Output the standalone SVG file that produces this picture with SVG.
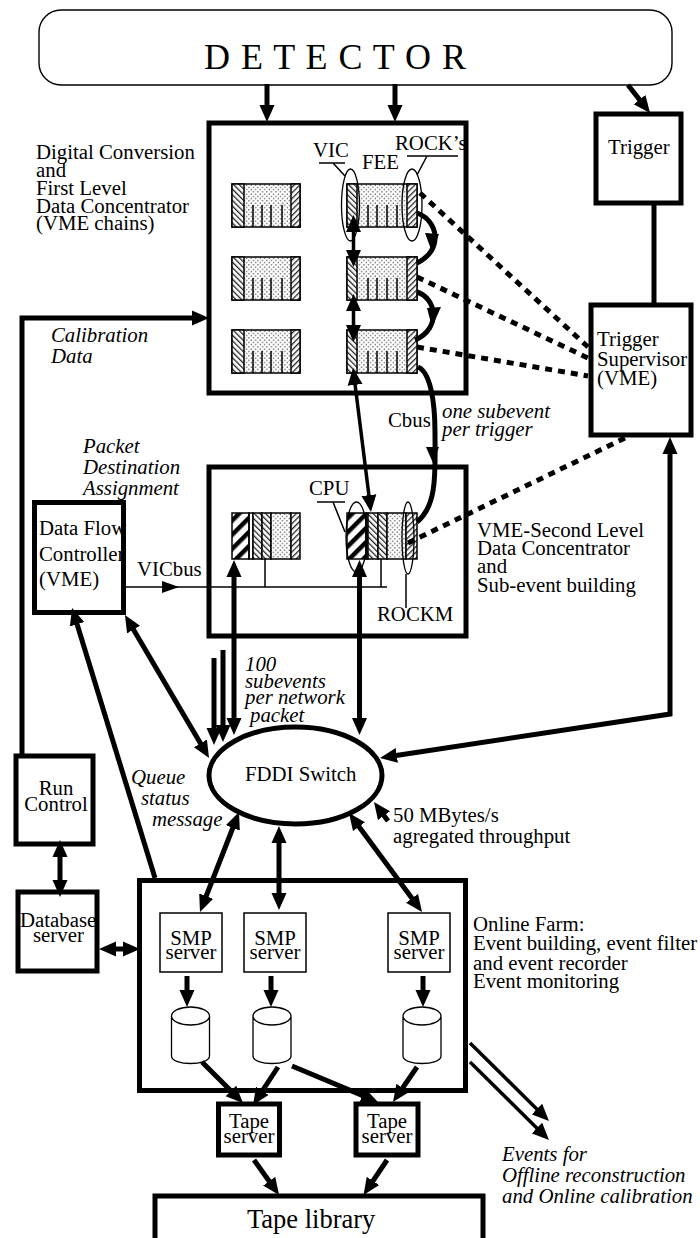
<svg xmlns="http://www.w3.org/2000/svg" width="700" height="1238" viewBox="0 0 700 1238">
<style>
text{font-family:"Liberation Serif","Times New Roman",serif;font-size:20.8px;fill:#000}
.i{font-style:italic}
.m{text-anchor:middle}
.box{fill:#fff;stroke:#000;stroke-width:5}
.open{fill:none;stroke:#000;stroke-width:5}
.thin{fill:#fff;stroke:#000;stroke-width:1.5}
.th{fill:none;stroke:#000;stroke-width:1.5}
.a3{fill:none;stroke:#000;stroke-width:3.5;marker-end:url(#h)}
.a4{fill:none;stroke:#000;stroke-width:5;marker-end:url(#h)}
.d3{fill:none;stroke:#000;stroke-width:3.5;marker-start:url(#h);marker-end:url(#h)}
.d4{fill:none;stroke:#000;stroke-width:5;marker-start:url(#h);marker-end:url(#h)}
.cv{fill:none;stroke:#000;stroke-width:5}
.ds{fill:none;stroke:#000;stroke-width:5;stroke-dasharray:7 6}
.c{fill:#fff;stroke:#000;stroke-width:1.3}
.pd{fill:url(#dots);stroke:#000;stroke-width:1.5}
.pb{fill:url(#back);stroke:#000;stroke-width:1.5}
.pf{fill:url(#fwd);stroke:#000;stroke-width:1.5}
.pt{fill:url(#thick);stroke:#000;stroke-width:1.5}
</style>
<defs>
<marker id="h" markerUnits="userSpaceOnUse" markerWidth="18" markerHeight="16" viewBox="0 0 18 16" refX="9" refY="8" orient="auto-start-reverse"><path d="M0,0.5 L17,8 L0,15.5 Z" fill="#000"/></marker>
<pattern id="dots" width="4.5" height="4.5" patternUnits="userSpaceOnUse"><rect width="4.5" height="4.5" fill="#fff"/><circle cx="1.2" cy="1.2" r=".65" fill="#222"/><circle cx="3.45" cy="3.45" r=".65" fill="#222"/></pattern>
<pattern id="back" width="4" height="4" patternUnits="userSpaceOnUse" patternTransform="rotate(-45)"><rect width="4" height="4" fill="#fff"/><rect width="1.3" height="4" fill="#222"/></pattern>
<pattern id="fwd" width="4" height="4" patternUnits="userSpaceOnUse" patternTransform="rotate(45)"><rect width="4" height="4" fill="#fff"/><rect width="1.3" height="4" fill="#222"/></pattern>
<pattern id="thick" width="10" height="10" patternUnits="userSpaceOnUse" patternTransform="rotate(45)"><rect width="10" height="10" fill="#fff"/><rect width="4.5" height="10" fill="#000"/></pattern>
<g id="crL"><rect class="pd" x="0" y="0" width="68" height="43"/><rect class="pb" x="0" y="0" width="12" height="43"/><rect class="pf" x="59" y="0" width="9" height="43"/><path class="th" d="M21,21V43M30,21V43M39,21V43M50,21V43"/></g>
<g id="crR"><rect class="pd" x="0" y="0" width="70" height="43"/><rect class="pb" x="0" y="0" width="10" height="43"/><rect class="pf" x="60" y="0" width="10" height="43"/><path class="th" d="M21,21V43M30,21V43M40,21V43M50,21V43"/></g>
<path id="cyl" class="c" d="M-19,9 V49 C-19,59 19,59 19,49 V9 M-19,9 A19,9 0 1 1 19,9 A19,9 0 1 1 -19,9 Z"/>
</defs>
<rect width="700" height="1238" fill="#fff"/>

<g id="detector"><rect x="39" y="10" width="633" height="75" rx="22" ry="22" fill="#fff" stroke="#000" stroke-width="1.4"/><text x="204" y="69" style="font-size:36px" textLength="262">D E T E C T O R</text></g>

<g id="trigger"><rect class="box" x="596" y="114" width="85" height="89"/><text x="608" y="154">Trigger</text></g>

<g id="first-level">
<rect x="209" y="123" width="257" height="270" fill="#fff"/>
<use href="#crL" x="232" y="184"/><use href="#crL" x="232" y="257"/><use href="#crL" x="232" y="330"/>
<use href="#crR" x="347" y="184"/><use href="#crR" x="347" y="257"/><use href="#crR" x="347" y="330"/>
<ellipse cx="350.5" cy="205" rx="9" ry="36" fill="none" stroke="#000" stroke-width="1.3"/>
<ellipse cx="412" cy="205" rx="10" ry="36" fill="none" stroke="#000" stroke-width="1.3"/>
<text x="313" y="157">VIC</text><path class="th" d="M319,163H345M333,163L345,176"/>
<text x="362" y="169">FEE</text>
<text x="395" y="150">ROCK’s</text><path class="th" d="M407,156H458M427,156L417,175"/>
<rect class="open" x="209" y="123" width="257" height="270"/>
</g>
<g id="first-level-label"><text x="36" y="159">Digital Conversion</text><text x="36" y="177">and</text><text x="36" y="195">First Level</text><text x="36" y="213">Data Concentrator</text><text x="36" y="230">(VME chains)</text></g>

<g id="second-level">
<rect class="box" x="209" y="467" width="257" height="169"/>
<rect class="pt" x="232" y="513" width="17" height="46"/><rect class="th" x="249" y="513" width="4" height="46"/><rect class="pb" x="253" y="513" width="9" height="46"/><rect class="pb" x="262" y="513" width="9" height="46"/><rect class="pd" x="271" y="513" width="20" height="46"/><rect class="pf" x="291" y="513" width="9" height="46"/>
<rect class="pt" x="347" y="513" width="19" height="46"/><rect class="th" x="366" y="513" width="2" height="46"/><rect class="pb" x="368" y="513" width="10" height="46"/><rect class="pb" x="378" y="513" width="9" height="46"/><rect class="pd" x="387" y="513" width="19" height="46"/><rect class="pf" x="406" y="513" width="11" height="46"/>
<ellipse cx="356.5" cy="537" rx="10.5" ry="35" fill="none" stroke="#000" stroke-width="1.3"/>
<ellipse cx="408" cy="538" rx="6" ry="36" fill="none" stroke="#000" stroke-width="1.3"/>
<text x="309" y="495">CPU</text><path class="th" d="M317,502H345M333,502L345,532"/>
<path class="th" d="M406,574V608"/><text x="377" y="621">ROCKM</text>
<path class="th" d="M265,559V587M381,559V587"/>
</g>
<g id="second-level-label"><text x="477" y="537">VME-Second Level</text><text x="477" y="555">Data Concentrator</text><text x="477" y="573">and</text><text x="477" y="592">Sub-event building</text></g>

<g id="trigger-supervisor"><rect class="box" x="591" y="305" width="100" height="130"/><text x="597" y="346">Trigger</text><text x="597" y="366">Supervisor</text><text x="597" y="385">(VME)</text></g>

<g id="data-flow"><rect x="34.5" y="502.5" width="89" height="110" fill="#fff"/><text x="39" y="535">Data Flow</text><text x="39" y="561">Controller</text><text x="39" y="586">(VME)</text><rect class="open" x="34.5" y="502.5" width="89" height="110"/></g>
<g id="packet-label"><text class="i" x="83" y="453">Packet</text><text class="i" x="83" y="474">Destination</text><text class="i" x="83" y="495">Assignment</text></g>

<g id="run-control"><rect class="box" x="16" y="756" width="77" height="88"/><text class="m" x="56" y="795">Run</text><text class="m" x="56" y="811">Control</text></g>
<g id="database"><rect class="box" x="18" y="892" width="79" height="79"/><text x="20" y="927">Database</text><text x="33" y="942">server</text></g>

<g id="fddi"><ellipse cx="295.5" cy="775.5" rx="86.5" ry="48.5" fill="#fff" stroke="#000" stroke-width="5"/><text x="245" y="781">FDDI Switch</text></g>

<g id="farm">
<rect class="box" x="139.5" y="880.5" width="326" height="210"/>
<g id="smp1"><rect class="thin" x="160" y="913" width="62" height="59"/><text class="m" x="191" y="945">SMP</text><text class="m" x="191" y="959">server</text></g>
<g id="smp2"><rect class="thin" x="244" y="913" width="62" height="59"/><text class="m" x="275" y="945">SMP</text><text class="m" x="275" y="959">server</text></g>
<g id="smp3"><rect class="thin" x="388" y="913" width="62" height="59"/><text class="m" x="419" y="945">SMP</text><text class="m" x="419" y="959">server</text></g>
<use href="#cyl" x="190.5" y="1007"/><use href="#cyl" x="272" y="1007"/><use href="#cyl" x="422" y="1007"/>
</g>
<g id="farm-label"><text x="473" y="931">Online Farm:</text><text x="473" y="950">Event building, event filter</text><text x="473" y="970">and event recorder</text><text x="473" y="988">Event monitoring</text></g>

<g id="tape1"><rect class="box" x="218.5" y="1104" width="61" height="51"/><text class="m" x="249" y="1128">Tape</text><text class="m" x="249" y="1143">server</text></g>
<g id="tape2"><rect class="box" x="356" y="1104" width="62" height="51"/><text class="m" x="387" y="1128">Tape</text><text class="m" x="387" y="1143">server</text></g>
<g id="tape-library"><rect class="box" x="155" y="1196" width="328" height="60"/><text x="247" y="1228" style="font-size:26.5px">Tape library</text></g>

<g id="connectors">
<path class="a4" d="M267,84V114"/>
<path class="a4" d="M395,84V114"/>
<path class="a4" d="M628,85L645.1,106.7"/>
<path class="cv" d="M654,203V305"/>
<path class="ds" d="M420,193L588,347"/>
<path class="ds" d="M417,277L588,358"/>
<path class="ds" d="M417,347L588,376"/>
<path class="ds" d="M408,543L627,437"/>
<path class="d3" d="M353.5,223V259"/>
<path class="d3" d="M353.5,302V334"/>
<path class="d3" d="M354,375.9L370,504.1"/>
<path class="cv" d="M417,213C438,220 444,250 417,263"/>
<polygon points="425,233 439,234 432,252"/>
<path class="cv" d="M417,292C436,298 442,328 415,340"/>
<polygon points="427,308 441,307 432,327"/>
<path class="cv" d="M418,367C430,372 435,400 435,433C435,470 438,505 417,522"/>
<polygon points="426,447 439,447 433,463"/>
<path class="a4" d="M22,754V318H201"/>
<path class="th" d="M125,587H387"/>
<polygon points="162,581 179,587 162,593"/>
<path class="d4" d="M234,568V727"/>
<path class="d4" d="M359.5,568V727"/>
<path class="a4" d="M214,658V737"/>
<path class="a4" d="M223,650V734"/>
<path class="d4" d="M129,621.9L205,751.1"/>
<path class="a4" d="M155,878L74.4,615.6"/>
<path class="d4" d="M670,445V714L387.9,756.8"/>
<path class="d4" d="M236.1,819.5L202.9,904.5"/>
<path class="d4" d="M279,834V902"/>
<path class="d4" d="M353.7,819.4L417.3,905.6"/>
<path class="d4" d="M60,848V889"/>
<path class="d4" d="M107,949H132"/>
<path class="a4" d="M187,976V999"/>
<path class="a4" d="M271,976V999"/>
<path class="a4" d="M423,976V999"/>
<path class="a4" d="M202,1062L237.3,1097.3"/>
<path class="a4" d="M278,1067L257.4,1098.3"/>
<path class="a4" d="M292,1066L370.6,1098.9"/>
<path class="a4" d="M417,1067L397.5,1095.4"/>
<path class="a4" d="M254,1160L274.4,1188.5"/>
<path class="a4" d="M387,1160L368,1188.4"/>
<path class="a3" d="M470,1062L543.3,1134.4"/>
<path class="a3" d="M470,1043L543.3,1115.4"/>
<path class="a4" d="M388,821L378.7,808.4"/>
</g>

<g id="labels">
<text class="i" x="51" y="342">Calibration</text><text class="i" x="51" y="363">Data</text>
<text x="388" y="427">Cbus</text>
<text class="i" x="442" y="418">one subevent</text><text class="i" x="442" y="436">per trigger</text>
<text x="137" y="576">VICbus</text>
<text class="i" x="245" y="671">100</text><text class="i" x="245" y="688">subevents</text><text class="i" x="245" y="704">per network</text><text class="i" x="250" y="722">packet</text>
<text class="i" x="131" y="784">Queue</text><text class="i" x="141" y="805">status</text><text class="i" x="152" y="826">message</text>
<text x="393" y="822">50 MBytes/s</text><text x="393" y="843">agregated throughput</text>
<text class="i" x="502" y="1161">Events for</text><text class="i" x="502" y="1182">Offline reconstruction</text><text class="i" x="502" y="1203">and Online calibration</text>
</g>
</svg>
